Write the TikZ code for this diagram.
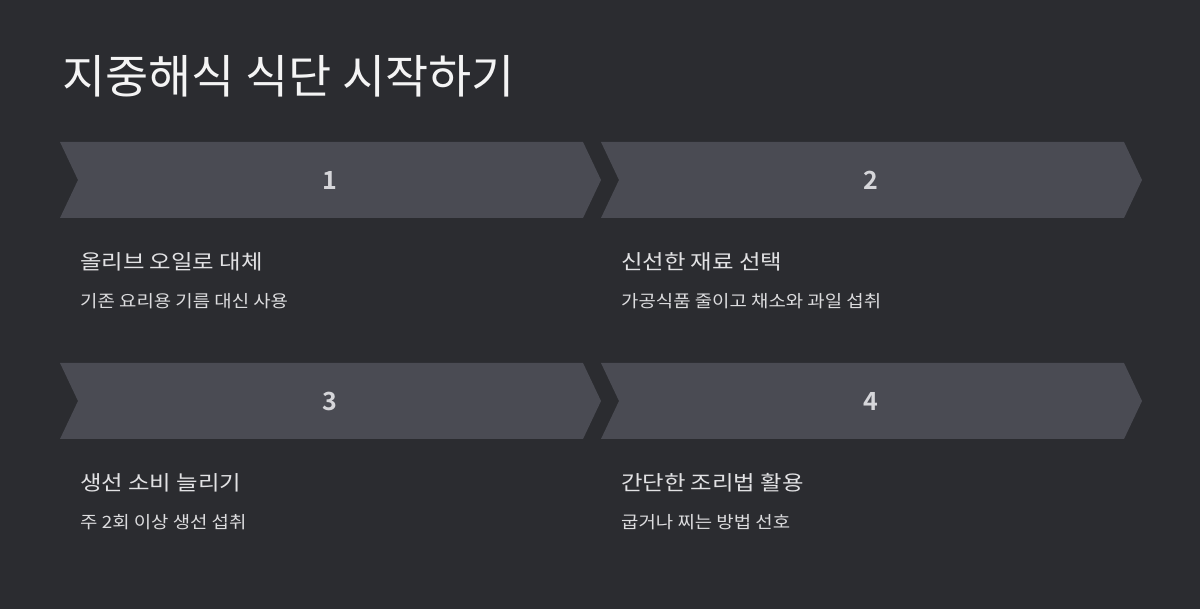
\documentclass[tikz,border=0pt]{standalone}
\usepackage{fontspec}
\setmainfont{Noto Sans CJK KR}
\newfontfamily\titlefont{Noto Sans CJK KR}[FakeStretch=1.02]
\newfontfamily\headfont{Noto Sans CJK KR}[FakeStretch=1.14]
\newfontfamily\subfont{Noto Sans CJK KR}[FakeStretch=1.11]
\newfontfamily\numfont{Noto Sans CJK KR Bold}
\definecolor{bgcol}{HTML}{2B2C30}
\definecolor{chevcol}{HTML}{4A4B53}
\definecolor{titlecol}{HTML}{F4F4F4}
\definecolor{headcol}{HTML}{E2E2E4}
\definecolor{subcol}{HTML}{DCDCDE}
\definecolor{numcol}{HTML}{D6D6DA}
\tikzset{
  chev/.style={fill=chevcol, draw=none},
  titletext/.style={anchor=base west, inner sep=0pt, text=titlecol, font=\titlefont\fontsize{46}{50}\selectfont},
  headtext/.style={anchor=base west, inner sep=0pt, text=headcol, font=\headfont\fontsize{20.5}{24}\selectfont},
  subtext/.style={anchor=base west, inner sep=0pt, text=subcol, font=\subfont\fontsize{17}{19}\selectfont},
  numtext/.style={anchor=center, inner sep=0pt, text=numcol, font=\numfont\fontsize{25}{28}\selectfont},
}
\begin{document}
\begin{tikzpicture}[x=1pt,y=-1pt]
\fill[bgcol] (0,0) rectangle (1200,609);
\useasboundingbox (0,0) rectangle (1200,609);
\node[titletext] (title) at (62,94) {지중해식 식단 시작하기};
% row 1
\fill[chev] (60,142) -- (583,142) -- (601,180) -- (583,218) -- (60,218) -- (78,180) -- cycle;
\fill[chev] (601,142) -- (1124,142) -- (1142,180) -- (1124,218) -- (601,218) -- (619,180) -- cycle;
\node[numtext] (n1) at (330,180.5) {1};
\node[numtext] (n2) at (871,180.5) {2};
\node[headtext] (h1) at (80,269.5) {올리브 오일로 대체};
\node[subtext] (s1) at (80,307.5) {기존 요리용 기름 대신 사용};
\node[headtext] (h2) at (621,269.5) {신선한 재료 선택};
\node[subtext] (s2) at (621,307.5) {가공식품 줄이고 채소와 과일 섭취};
% row 2
\fill[chev] (60,363) -- (583,363) -- (601,401) -- (583,439) -- (60,439) -- (78,401) -- cycle;
\fill[chev] (601,363) -- (1124,363) -- (1142,401) -- (1124,439) -- (601,439) -- (619,401) -- cycle;
\node[numtext] (n3) at (330,401.5) {3};
\node[numtext] (n4) at (871,401.5) {4};
\node[headtext] (h3) at (80,490.5) {생선 소비 늘리기};
\node[subtext] (s3) at (80,528.5) {주 2회 이상 생선 섭취};
\node[headtext] (h4) at (621,490.5) {간단한 조리법 활용};
\node[subtext] (s4) at (621,528.5) {굽거나 찌는 방법 선호};
\end{tikzpicture}
\end{document}
